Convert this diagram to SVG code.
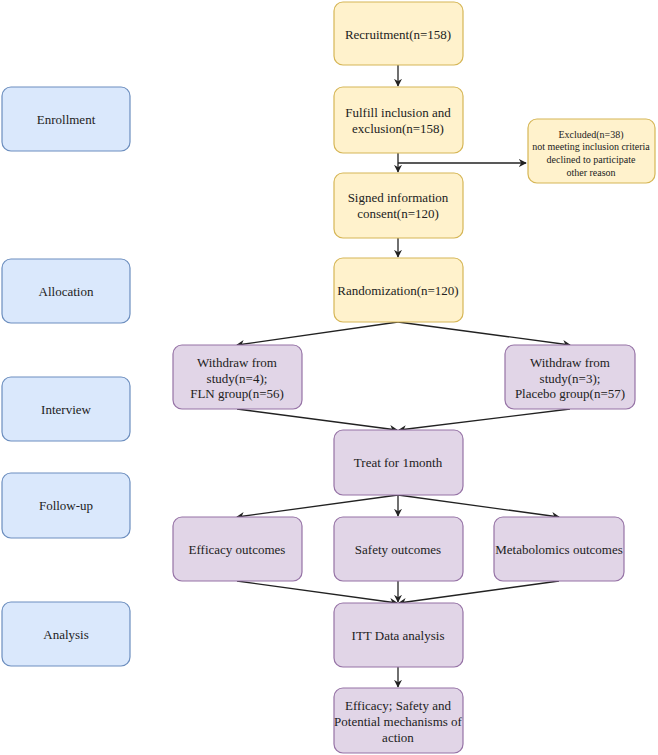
<svg xmlns="http://www.w3.org/2000/svg" width="658" height="755" viewBox="0 0 658 755">
<style>
.y{fill:#fff2cc;stroke:#d6b656;stroke-width:1.2}
.b{fill:#dae8fc;stroke:#6c8ebf;stroke-width:1.2}
.p{fill:#e1d5e7;stroke:#9673a6;stroke-width:1.2}
text{font-family:"Liberation Serif","Times New Roman",serif;font-size:13px;fill:#222;text-anchor:middle;dominant-baseline:central}
.s{font-size:10px}
.c{fill:none;stroke:#222;stroke-width:1.3}
</style>
<defs>
<marker id="a" viewBox="0 0 10 10" refX="9" refY="5" markerWidth="8" markerHeight="8" markerUnits="userSpaceOnUse" orient="auto">
<path d="M0,0 L10,5 L0,10 L3,5 z" fill="#222"/>
</marker>
</defs>
<rect width="658" height="755" fill="#fff"/>
<g id="connectors">
<path class="c" d="M398,65 L398,86" marker-end="url(#a)"/>
<path class="c" d="M398,153 L398,172" marker-end="url(#a)"/>
<path class="c" d="M398,163 L526,163" marker-end="url(#a)"/>
<path class="c" d="M398,238 L398,257" marker-end="url(#a)"/>
<path class="c" d="M398,322 L237,345" marker-end="url(#a)"/>
<path class="c" d="M398,322 L570,345" marker-end="url(#a)"/>
<path class="c" d="M237,409 L397,430" marker-end="url(#a)"/>
<path class="c" d="M570,409 L399,430" marker-end="url(#a)"/>
<path class="c" d="M398,495 L237,517" marker-end="url(#a)"/>
<path class="c" d="M398,495 L398,516" marker-end="url(#a)"/>
<path class="c" d="M398,495 L559,517" marker-end="url(#a)"/>
<path class="c" d="M237,581 L397,603" marker-end="url(#a)"/>
<path class="c" d="M398,581 L398,602" marker-end="url(#a)"/>
<path class="c" d="M559,581 L399,603" marker-end="url(#a)"/>
<path class="c" d="M398,667 L398,687" marker-end="url(#a)"/>
</g>
<g id="enrollment"><rect class="b" x="2" y="87" width="128" height="64" rx="9"/><text x="66" y="119">Enrollment</text></g>
<g id="allocation"><rect class="b" x="2" y="259" width="128" height="64" rx="9"/><text x="66" y="291">Allocation</text></g>
<g id="interview"><rect class="b" x="2" y="377" width="128" height="64" rx="9"/><text x="66" y="409">Interview</text></g>
<g id="followup"><rect class="b" x="2" y="473" width="128" height="65" rx="9"/><text x="66" y="505">Follow-up</text></g>
<g id="analysis"><rect class="b" x="2" y="602" width="128" height="64" rx="9"/><text x="66" y="634">Analysis</text></g>
<g id="recruitment"><rect class="y" x="334" y="2" width="129" height="63" rx="9"/><text x="398" y="34">Recruitment(n=158)</text></g>
<g id="fulfill"><rect class="y" x="334" y="87" width="129" height="66" rx="9"/><text x="398" y="112">Fulfill inclusion and</text><text x="398" y="128">exclusion(n=158)</text></g>
<g id="excluded"><rect class="y" x="528" y="119" width="127" height="64" rx="9"/><text class="s" x="591" y="134">Excluded(n=38)</text><text class="s" x="591" y="146">not meeting inclusion criteria</text><text class="s" x="591" y="159">declined to participate</text><text class="s" x="591" y="172">other reason</text></g>
<g id="signed"><rect class="y" x="334" y="173" width="129" height="65" rx="9"/><text x="398" y="197">Signed information</text><text x="398" y="213">consent(n=120)</text></g>
<g id="randomization"><rect class="y" x="334" y="258" width="129" height="64" rx="9"/><text x="398" y="290">Randomization(n=120)</text></g>
<g id="withdraw-fln"><rect class="p" x="173" y="345" width="129" height="64" rx="9"/><text x="237" y="362">Withdraw from</text><text x="237" y="378">study(n=4);</text><text x="237" y="393">FLN group(n=56)</text></g>
<g id="withdraw-placebo"><rect class="p" x="505" y="345" width="130" height="64" rx="9"/><text x="570" y="362">Withdraw from</text><text x="570" y="378">study(n=3);</text><text x="570" y="393">Placebo group(n=57)</text></g>
<g id="treat"><rect class="p" x="334" y="430" width="129" height="65" rx="9"/><text x="398" y="462">Treat for 1month</text></g>
<g id="efficacy"><rect class="p" x="173" y="517" width="129" height="64" rx="9"/><text x="237" y="549">Efficacy outcomes</text></g>
<g id="safety"><rect class="p" x="334" y="517" width="129" height="64" rx="9"/><text x="398" y="549">Safety outcomes</text></g>
<g id="metabolomics"><rect class="p" x="494" y="517" width="130" height="64" rx="9"/><text x="559" y="549">Metabolomics outcomes</text></g>
<g id="itt"><rect class="p" x="334" y="603" width="129" height="64" rx="9"/><text x="398" y="635">ITT Data analysis</text></g>
<g id="result"><rect class="p" x="334" y="688" width="129" height="65" rx="9"/><text x="398" y="705">Efficacy; Safety and</text><text x="398" y="721">Potential mechanisms of</text><text x="398" y="737">action</text></g>
</svg>
